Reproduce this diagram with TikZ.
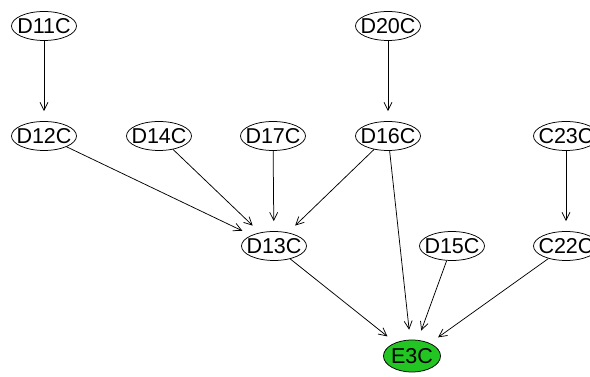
\documentclass[tikz,border=0pt]{standalone}
\usepackage{fontspec}
\setmainfont{Liberation Sans}
\usetikzlibrary{arrows.meta,shapes.geometric}
\definecolor{nodegreen}{RGB}{34,197,34}
\tikzset{
  vnode/.style={ellipse, draw=black, line width=0.75pt, inner xsep=-14pt, inner ysep=-8pt,
    minimum width=65pt, minimum height=29pt, font=\fontsize{21.5}{21.5}\selectfont},
  edge/.style={draw=black, line width=0.75pt, -{Straight Barb[length=8pt,width=8pt]}, shorten >=10pt}
}
\begin{document}
\begin{tikzpicture}[x=1pt,y=1pt]
\useasboundingbox[fill=white] (0,0) rectangle (590,377);
\node[vnode] (D11C) at (44,351) {D11C};
\node[vnode] (D20C) at (388,351) {D20C};
\node[vnode] (D12C) at (44,241) {D12C};
\node[vnode] (D14C) at (159,241) {D14C};
\node[vnode] (D17C) at (273,241) {D17C};
\node[vnode] (D16C) at (388,241) {D16C};
\node[vnode] (C23C) at (566,241) {C23C};
\node[vnode] (D13C) at (274,131) {D13C};
\node[vnode] (D15C) at (452,131) {D15C};
\node[vnode] (C22C) at (566,131) {C22C};
\node[vnode, fill=nodegreen, minimum width=57pt, minimum height=32pt] (E3C) at (412,21) {E3C};
\draw[edge] (D11C) -- (D12C);
\draw[edge] (D20C) -- (D16C);
\draw[edge] (C23C) -- (C22C);
\draw[edge] (D12C) -- (D13C);
\draw[edge] (D14C) -- (D13C);
\draw[edge] (D17C) -- (D13C);
\draw[edge] (D16C) -- (D13C);
\draw[edge] (D16C) -- (E3C);
\draw[edge] (D13C) -- (E3C);
\draw[edge] (D15C) -- (E3C);
\draw[edge] (C22C) -- (E3C);
\end{tikzpicture}
\end{document}
